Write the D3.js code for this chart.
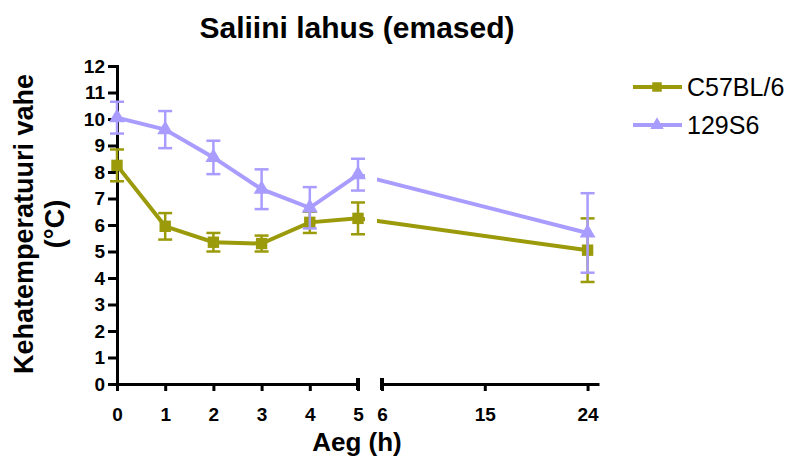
<!DOCTYPE html>
<html>
<head>
<meta charset="utf-8">
<script src="https://cdn.jsdelivr.net/npm/d3@7"></script>
<style>
  body { margin: 0; background: #fff; }
  text { font-family: "Liberation Sans", Arial, sans-serif; fill: #000; }
</style>
</head>
<body>
<div class="chart"></div>
<script>
// Data
var times = [0, 1, 2, 3, 4, 5, 24];
var c57Mean = [8.25, 5.95, 5.35, 5.3, 6.1, 6.25, 5.05];
var c57Err = [0.6, 0.5, 0.35, 0.3, 0.4, 0.6, 1.2];
var s6Mean = [10.05, 9.6, 8.55, 7.35, 6.65, 7.9, 5.7];
var s6Err = [0.6, 0.7, 0.63, 0.75, 0.78, 0.6, 1.5];
var seriesNames = ["C57BL/6", "129S6"];
var seriesColors = ["#9a9a0a", "#a99cff"];
var yTicks = d3.range(0, 13);
var xTicksLeft = [0, 1, 2, 3, 4, 5];
var xTicksRight = [6, 15, 24];

var svgWidth = 792;
var svgHeight = 464;

var svg = d3.select(".chart")
  .append("svg")
  .attr("width", svgWidth)
  .attr("height", svgHeight);

// Scales: broken x axis, two pieces
var xLeft = d3.scaleLinear().domain([0, 5]).range([117, 358]);
var xRight = d3.scaleLinear().domain([6, 25]).range([382, 599]);
var y = d3.scaleLinear().domain([0, 12]).range([384, 66]);
var xPos = t => t <= 5 ? xLeft(t) : xRight(t);

// Axes
var fmt = d3.format("d");
var leftAxis = d3.axisLeft(y).tickValues(yTicks).tickFormat(fmt).tickSize(9).tickPadding(3);
var bottomLeft = d3.axisBottom(xLeft).tickValues(xTicksLeft).tickFormat(fmt).tickSize(7).tickPadding(17).tickSizeOuter(0);
var bottomRight = d3.axisBottom(xRight).tickValues(xTicksRight).tickFormat(fmt).tickSize(7).tickPadding(17).tickSizeOuter(0);

function styleAxis(g) {
  g.select(".domain").attr("stroke", "#000").attr("stroke-width", 3);
  g.selectAll(".tick line").attr("stroke", "#000").attr("stroke-width", 3);
  g.selectAll(".tick text")
    .style("font-family", "'Liberation Sans', Arial, sans-serif")
    .style("font-size", "19px")
    .style("font-weight", "bold")
    .attr("fill", "#000");
}

svg.append("g")
  .attr("transform", "translate(117,0)")
  .call(leftAxis)
  .call(styleAxis);

svg.append("g")
  .attr("transform", "translate(0,384)")
  .call(bottomLeft)
  .call(styleAxis);

svg.append("g")
  .attr("transform", "translate(0,384)")
  .call(bottomRight)
  .call(styleAxis);

// break caps at the axis ends
svg.append("line").attr("x1", xLeft(5)).attr("x2", xLeft(5))
  .attr("y1", 378).attr("y2", 390).attr("stroke", "#000").attr("stroke-width", 4);
svg.append("line").attr("x1", xRight(6)).attr("x2", xRight(6))
  .attr("y1", 378).attr("y2", 390).attr("stroke", "#000").attr("stroke-width", 4);

// clip for the gap in the lines
var defs = svg.append("defs");
var clip = defs.append("clipPath").attr("id", "gapClip");
clip.append("rect").attr("x", 0).attr("y", 0).attr("width", 365).attr("height", svgHeight);
clip.append("rect").attr("x", 377).attr("y", 0).attr("width", svgWidth - 377).attr("height", svgHeight);

var series = [
  { name: seriesNames[0], color: seriesColors[0], mean: c57Mean, err: c57Err, shape: d3.symbolSquare },
  { name: seriesNames[1], color: seriesColors[1], mean: s6Mean, err: s6Err, shape: d3.symbolTriangle }
];

var line = d3.line()
  .x(d => xPos(d.t))
  .y(d => y(d.v));

series.forEach(function (s) {
  var pts = times.map((t, i) => ({ t: t, v: s.mean[i], e: s.err[i] }));
  var g = svg.append("g");

  g.append("path")
    .datum(pts)
    .attr("d", line)
    .attr("fill", "none")
    .attr("stroke", s.color)
    .attr("stroke-width", 4)
    .attr("clip-path", "url(#gapClip)");

  // error bars
  var eb = g.selectAll(".eb").data(pts).enter().append("g").attr("stroke", s.color).attr("stroke-width", 2.5);
  eb.append("line")
    .attr("x1", d => xPos(d.t)).attr("x2", d => xPos(d.t))
    .attr("y1", d => y(d.v + d.e)).attr("y2", d => y(d.v - d.e));
  eb.append("line")
    .attr("x1", d => xPos(d.t) - 7).attr("x2", d => xPos(d.t) + 7)
    .attr("y1", d => y(d.v + d.e)).attr("y2", d => y(d.v + d.e));
  eb.append("line")
    .attr("x1", d => xPos(d.t) - 7).attr("x2", d => xPos(d.t) + 7)
    .attr("y1", d => y(d.v - d.e)).attr("y2", d => y(d.v - d.e));

  g.selectAll(".pt").data(pts).enter().append("path")
    .attr("d", d3.symbol().type(s.shape).size(s.shape === d3.symbolSquare ? 130 : 110))
    .attr("transform", d => `translate(${xPos(d.t)},${y(d.v)})`)
    .attr("fill", s.color);
});

// Legend
var legend = svg.append("g");
series.forEach(function (s, i) {
  var ly = 87 + i * 38;
  legend.append("line").attr("x1", 633).attr("x2", 682).attr("y1", ly).attr("y2", ly)
    .attr("stroke", s.color).attr("stroke-width", 4);
  legend.append("path")
    .attr("d", d3.symbol().type(s.shape).size(s.shape === d3.symbolSquare ? 90 : 80))
    .attr("transform", `translate(657,${ly})`)
    .attr("fill", s.color);
  legend.append("text").attr("x", 687).attr("y", ly + 9)
    .style("font-size", "25px")
    .text(s.name);
});

// Title and axis labels
svg.append("text")
  .attr("x", 357).attr("y", 38)
  .attr("text-anchor", "middle")
  .style("font-size", "30px").style("font-weight", "bold")
  .text("Saliini lahus (emased)");

svg.append("text")
  .attr("transform", "translate(33,224) rotate(-90)")
  .attr("text-anchor", "middle")
  .style("font-size", "27px").style("font-weight", "bold")
  .text("Kehatemperatuuri vahe");

svg.append("text")
  .attr("transform", "translate(64,224) rotate(-90)")
  .attr("text-anchor", "middle")
  .style("font-size", "27px").style("font-weight", "bold")
  .text("(°C)");

svg.append("text")
  .attr("x", 357).attr("y", 451)
  .attr("text-anchor", "middle")
  .style("font-size", "26px").style("font-weight", "bold")
  .text("Aeg (h)");
</script>
</body>
</html>
